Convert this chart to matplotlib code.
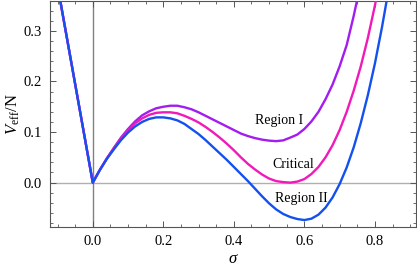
import matplotlib
matplotlib.use("Agg")
import matplotlib.pyplot as plt
from matplotlib.ticker import MultipleLocator, FormatStrFormatter

plt.rcParams['font.family'] = ['Liberation Serif', 'DejaVu Serif']
plt.rcParams['mathtext.fontset'] = 'custom'
plt.rcParams['mathtext.rm'] = 'Liberation Serif'
plt.rcParams['mathtext.it'] = 'Liberation Serif:italic'

# left branch, shared by all three curves
sigma_left = [-0.12, 0.0]
v_left = [0.468, 0.0]

# Region I
sigma_r1 = [0.0, 0.02, 0.04, 0.06, 0.08, 0.10, 0.12, 0.14, 0.16, 0.18, 0.20, 0.22, 0.24,
            0.26, 0.28, 0.30, 0.32, 0.34, 0.36, 0.38, 0.40, 0.42, 0.44, 0.46, 0.48, 0.50,
            0.52, 0.54, 0.56, 0.58, 0.60, 0.62, 0.64, 0.66, 0.68, 0.70, 0.72, 0.74, 0.76]
v_r1 = [0.0, 0.025, 0.048, 0.069, 0.089, 0.106, 0.121, 0.133, 0.141, 0.147, 0.150, 0.152, 0.152,
        0.149, 0.145, 0.139, 0.132, 0.125, 0.118, 0.111, 0.104, 0.097, 0.092, 0.088, 0.085, 0.083,
        0.082, 0.0835, 0.089, 0.095, 0.106, 0.121, 0.140, 0.165, 0.194, 0.230, 0.272, 0.330, 0.395]

# Critical
sigma_cr = [0.0, 0.02, 0.04, 0.06, 0.08, 0.10, 0.12, 0.14, 0.16, 0.18, 0.20, 0.22, 0.24,
            0.26, 0.28, 0.30, 0.32, 0.34, 0.36, 0.38, 0.40, 0.42, 0.44, 0.46, 0.48, 0.50,
            0.52, 0.54, 0.56, 0.58, 0.60, 0.62, 0.64, 0.66, 0.68, 0.70, 0.72, 0.74, 0.76,
            0.78, 0.80, 0.82]
v_cr = [0.0, 0.025, 0.048, 0.068, 0.087, 0.103, 0.117, 0.127, 0.134, 0.138, 0.139, 0.139, 0.137,
        0.132, 0.126, 0.119, 0.110, 0.100, 0.089, 0.077, 0.064, 0.050, 0.037, 0.026, 0.016, 0.008,
        0.003, 0.001, 0.0, 0.002, 0.007, 0.017, 0.031, 0.050, 0.074, 0.104, 0.140, 0.182, 0.230,
        0.286, 0.350, 0.421]

# Region II
sigma_r2 = [0.0, 0.02, 0.04, 0.06, 0.08, 0.10, 0.12, 0.14, 0.16, 0.18, 0.20, 0.22, 0.24,
            0.26, 0.28, 0.30, 0.32, 0.34, 0.36, 0.38, 0.40, 0.42, 0.44, 0.46, 0.48, 0.50,
            0.52, 0.54, 0.56, 0.58, 0.60, 0.62, 0.64, 0.66, 0.68, 0.70, 0.72, 0.74, 0.76,
            0.78, 0.80, 0.82, 0.84]
v_r2 = [0.0, 0.025, 0.047, 0.066, 0.084, 0.099, 0.111, 0.120, 0.126, 0.129, 0.129, 0.127, 0.123,
        0.116, 0.106, 0.096, 0.084, 0.071, 0.058, 0.045, 0.031, 0.017, 0.003, -0.012, -0.027, -0.041,
        -0.053, -0.062, -0.068, -0.072, -0.074, -0.0713, -0.0633, -0.0494, -0.0293, -0.0029, 0.030,
        0.070, 0.118, 0.173, 0.2355, 0.307, 0.386]

c_r1 = '#a31cf0'
c_cr = '#f01ab9'
c_r2 = '#1450f0'

fig = plt.figure(figsize=(4.17, 2.72), dpi=100)
ax = fig.add_axes([0.121, 0.165, 0.877, 0.833])

ax.axhline(0, color='#b0b0b0', lw=1.0, zorder=1)
ax.axvline(0, color='#808080', lw=1.0, zorder=1)

for s, v, c in [(sigma_r1, v_r1, c_r1), (sigma_cr, v_cr, c_cr), (sigma_r2, v_r2, c_r2)]:
    ax.plot(sigma_left + s[1:], v_left + v[1:], color=c, lw=1.7, solid_joinstyle='round', zorder=3)

ax.text(0.529, 0.122, 'Region I', fontsize=10, ha='center', va='center')
ax.text(0.568, 0.035, 'Critical', fontsize=10, ha='center', va='center')
ax.text(0.59, -0.032, 'Region II', fontsize=10, ha='center', va='center')

ax.set_xlim(-0.12, 0.917)
ax.set_ylim(-0.088, 0.36)
ax.xaxis.set_major_locator(MultipleLocator(0.2))
ax.xaxis.set_minor_locator(MultipleLocator(0.05))
ax.yaxis.set_major_locator(MultipleLocator(0.1))
ax.yaxis.set_minor_locator(MultipleLocator(0.02))
ax.xaxis.set_major_formatter(FormatStrFormatter('%.1f'))
ax.yaxis.set_major_formatter(FormatStrFormatter('%.1f'))
ax.tick_params(which='both', direction='in', top=True, right=True, color='#555555',
               labelsize=10.5, pad=6)
ax.tick_params(which='major', length=4, width=0.7)
ax.tick_params(which='minor', length=2.2, width=0.6)
for sp in ax.spines.values():
    sp.set_color('#555555')
    sp.set_linewidth(0.8)

ax.set_xlabel(r'$\sigma$', fontsize=12, labelpad=2)
ax.set_ylabel(r'$V_{\rm eff}/\mathrm{N}$', fontsize=12, labelpad=1)

fig.savefig('out.png', dpi=100)
